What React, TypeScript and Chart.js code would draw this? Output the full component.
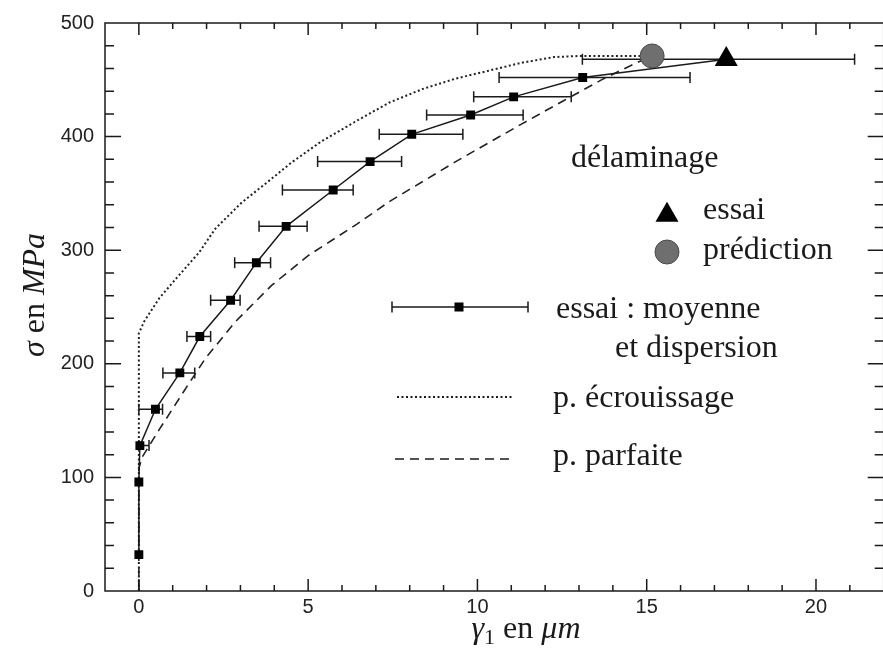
import React, { useEffect, useRef } from "react";
import { Chart, registerables } from "chart.js";

Chart.register(...registerables);

// ---- data: test means with horizontal dispersion ----
const meanX = [0, 0, 0.03, 0.49, 1.21, 1.8, 2.71, 3.47, 4.35, 5.74, 6.83, 8.06, 9.8, 11.07, 13.11];
const meanY = [32, 96, 128, 160, 192, 224, 256, 289, 321, 353, 378, 402, 419, 435, 452];
const errLow = [0, 0, 0, 0, 0.71, 1.42, 2.12, 2.83, 3.55, 4.24, 5.28, 7.1, 8.5, 9.89, 10.64];
const errHigh = [0, 0, 0.3, 0.7, 1.65, 2.12, 2.99, 3.89, 4.97, 6.33, 7.76, 9.57, 11.35, 12.77, 16.28];

// délaminage: essai (triangle) and prédiction (circle)
const essaiX = [17.35];
const essaiY = [468];
const essaiErrLow = [13.1];
const essaiErrHigh = [21.14];
const predX = [15.16];
const predY = [471];

// p. écrouissage (dotted)
const ecrouX = [0, 0, 0.17, 0.61, 1.1, 1.78, 2.26, 3.04, 3.8, 4.5, 5.4, 6.44, 7.4, 8.39, 9.35, 10.33, 11.3, 12.27, 13.05, 15.16];
const ecrouY = [0, 227, 238, 258, 275, 298, 319, 342, 360, 377, 396, 414, 430, 442, 451, 458, 465, 470, 471, 471];

// p. parfaite (dashed)
const parfX = [0, 0, 0.1, 0.6, 1.29, 1.97, 2.85, 3.92, 4.99, 6.44, 7.41, 9.36, 11.3, 12.57, 13.73, 14.7, 15.16];
const parfY = [0, 108, 118, 142, 174, 205, 237, 269, 295, 323, 343, 378, 411, 432, 451, 465, 471];

// ticks
const xTicks = [0, 5, 10, 15, 20];
const yTicks = [0, 100, 200, 300, 400, 500];
const xRange = [-1, 22];
const yRange = [0, 500];

// texts
const legendTitle = "délaminage";
const labelEssai = "essai";
const labelPred = "prédiction";
const labelMean1 = "essai : moyenne";
const labelMean2 = "et dispersion";
const labelEcrou = "p. écrouissage";
const labelParf = "p. parfaite";

const INK = "#1a1a1a";
const SERIF = '"Liberation Serif", "DejaVu Serif", serif';
const SANS = '"Liberation Sans", Arial, sans-serif';

const pts = (xs: number[], ys: number[]) => xs.map((x, i) => ({ x, y: ys[i] }));

const errorBarPlugin = {
  id: "errorBars",
  beforeDatasetsDraw(chart: any) {
    const { ctx, scales } = chart;
    const xs = scales.x;
    const ys = scales.y;
    const bars: [number, number, number][] = [];
    meanY.forEach((y, i) => {
      if (errHigh[i] - errLow[i] > 0) bars.push([errLow[i], errHigh[i], y]);
    });
    essaiY.forEach((y, i) => bars.push([essaiErrLow[i], essaiErrHigh[i], y]));
    ctx.save();
    ctx.strokeStyle = INK;
    ctx.lineWidth = 1.5;
    bars.forEach(([lo, hi, y]) => {
      const x1 = xs.getPixelForValue(lo);
      const x2 = xs.getPixelForValue(hi);
      const py = ys.getPixelForValue(y);
      ctx.beginPath();
      ctx.moveTo(x1, py);
      ctx.lineTo(x2, py);
      ctx.moveTo(x1, py - 5.5);
      ctx.lineTo(x1, py + 5.5);
      ctx.moveTo(x2, py - 5.5);
      ctx.lineTo(x2, py + 5.5);
      ctx.stroke();
    });
    ctx.restore();
  },
};

const framePlugin = {
  id: "frame",
  afterDatasetsDraw(chart: any) {
    const { ctx, chartArea, scales } = chart;
    const { left, right, top, bottom } = chartArea;
    ctx.save();
    ctx.strokeStyle = INK;
    ctx.lineWidth = 1.5;
    ctx.strokeRect(left, top, right - left, bottom - top);
    ctx.beginPath();
    for (let v = Math.ceil(xRange[0]) + 1; v < xRange[1]; v++) {
      const px = scales.x.getPixelForValue(v);
      const len = v % 5 === 0 ? 12 : 6;
      ctx.moveTo(px, bottom);
      ctx.lineTo(px, bottom - len);
      ctx.moveTo(px, top);
      ctx.lineTo(px, top + len);
    }
    for (let v = yRange[0] + 20; v < yRange[1]; v += 20) {
      const py = scales.y.getPixelForValue(v);
      const len = v % 100 === 0 ? 16 : 9;
      ctx.moveTo(left, py);
      ctx.lineTo(left + len, py);
      ctx.moveTo(right, py);
      ctx.lineTo(right - len, py);
    }
    ctx.stroke();
    ctx.restore();
  },
};

const textPlugin = {
  id: "texts",
  afterDraw(chart: any) {
    const { ctx } = chart;
    ctx.save();
    ctx.fillStyle = INK;
    ctx.strokeStyle = INK;
    ctx.textBaseline = "alphabetic";
    ctx.textAlign = "left";
    const reg = `32px ${SERIF}`;
    const ital = `italic 32px ${SERIF}`;
    ctx.font = reg;
    ctx.fillText(legendTitle, 571, 167);

    // triangle marker
    const tx = 667, ty = 215, r = 13.3;
    ctx.beginPath();
    ctx.moveTo(tx, ty - r);
    ctx.lineTo(tx + r * Math.sin((2 * Math.PI) / 3), ty + r / 2);
    ctx.lineTo(tx - r * Math.sin((2 * Math.PI) / 3), ty + r / 2);
    ctx.closePath();
    ctx.fillStyle = "#000";
    ctx.fill();
    ctx.fillStyle = INK;
    ctx.fillText(labelEssai, 703, 219);

    // circle marker
    ctx.beginPath();
    ctx.arc(667, 252, 12, 0, Math.PI * 2);
    ctx.fillStyle = "#6f6f6f";
    ctx.fill();
    ctx.strokeStyle = "#4a4a4a";
    ctx.lineWidth = 1;
    ctx.stroke();
    ctx.fillStyle = INK;
    ctx.strokeStyle = INK;
    ctx.fillText(labelPred, 703, 259);

    // error bar sample
    ctx.lineWidth = 1.5;
    ctx.beginPath();
    ctx.moveTo(392, 307);
    ctx.lineTo(528, 307);
    ctx.moveTo(392, 301.5);
    ctx.lineTo(392, 312.5);
    ctx.moveTo(528, 301.5);
    ctx.lineTo(528, 312.5);
    ctx.stroke();
    ctx.fillStyle = "#000";
    ctx.fillRect(459 - 4.5, 307 - 4.5, 9, 9);
    ctx.fillStyle = INK;
    ctx.fillText(labelMean1, 556, 318);
    ctx.fillText(labelMean2, 615, 357);

    // dotted sample
    ctx.setLineDash([2, 2.5]);
    ctx.lineWidth = 2;
    ctx.beginPath();
    ctx.moveTo(397, 397);
    ctx.lineTo(513, 397);
    ctx.stroke();
    ctx.fillText(labelEcrou, 553, 407);

    // dashed sample
    ctx.setLineDash([9, 6]);
    ctx.lineWidth = 1.6;
    ctx.beginPath();
    ctx.moveTo(395, 459);
    ctx.lineTo(515, 459);
    ctx.stroke();
    ctx.setLineDash([]);
    ctx.fillText(labelParf, 553, 465);

    // x axis title: γ1 en μm
    const parts = (
      segs: { t: string; f: string; dy?: number }[],
    ) => segs.map((s) => {
      ctx.font = s.f;
      return ctx.measureText(s.t).width;
    });
    const xSegs = [
      { t: "γ", f: ital },
      { t: "1", f: `22px ${SERIF}`, dy: 6 },
      { t: " en ", f: reg },
      { t: "μm", f: ital },
    ];
    const xw = parts(xSegs);
    const xTotal = xw.reduce((a, b) => a + b, 0);
    let cx = 526 - xTotal / 2;
    xSegs.forEach((s, i) => {
      ctx.font = s.f;
      ctx.fillText(s.t, cx, 638 + (s.dy || 0));
      cx += xw[i];
    });

    // y axis title: σ en MPa
    const ySegs = [
      { t: "σ", f: ital },
      { t: " en ", f: reg },
      { t: "MPa", f: ital },
    ];
    const yw = parts(ySegs);
    const yTotal = yw.reduce((a, b) => a + b, 0);
    ctx.translate(44, 295);
    ctx.rotate(-Math.PI / 2);
    let cy = -yTotal / 2;
    ySegs.forEach((s, i) => {
      ctx.font = s.f;
      ctx.fillText(s.t, cy, 0);
      cy += yw[i];
    });
    ctx.restore();
  },
};

export default function App() {
  const ref = useRef<HTMLCanvasElement>(null);
  useEffect(() => {
    if (!ref.current) return;
    const lineData = [...pts(meanX, meanY), ...pts(essaiX, essaiY)];
    const radii = lineData.map((_, i) => (i < meanX.length ? 6.3 : 0));
    const chart = new Chart(ref.current, {
      type: "scatter",
      data: {
        datasets: [
          {
            label: labelEcrou,
            data: pts(ecrouX, ecrouY),
            showLine: true,
            borderColor: "#222",
            borderWidth: 2,
            borderDash: [2, 2.5],
            pointRadius: 0,
            tension: 0,
            order: 5,
          } as any,
          {
            label: labelParf,
            data: pts(parfX, parfY),
            showLine: true,
            borderColor: "#222",
            borderWidth: 1.6,
            borderDash: [9, 6],
            pointRadius: 0,
            tension: 0,
            order: 4,
          },
          {
            label: labelMean1,
            data: lineData,
            showLine: true,
            borderColor: INK,
            borderWidth: 1.5,
            pointStyle: "rect",
            pointRadius: radii,
            pointBackgroundColor: "#000",
            pointBorderColor: "#000",
            pointBorderWidth: 0,
            order: 3,
          },
          {
            label: labelPred,
            data: pts(predX, predY),
            pointStyle: "circle",
            pointRadius: 12,
            pointBackgroundColor: "#6f6f6f",
            pointBorderColor: "#4a4a4a",
            pointBorderWidth: 1,
            order: 2,
          },
          {
            label: labelEssai,
            data: pts(essaiX, essaiY),
            pointStyle: "triangle",
            pointRadius: 13.3,
            pointBackgroundColor: "#000",
            pointBorderColor: "#000",
            pointBorderWidth: 0,
            order: 1,
          },
        ],
      },
      options: {
        responsive: false,
        animation: false,
        devicePixelRatio: 1,
        layout: { padding: { top: 18, right: 7, left: 0, bottom: 0 } },
        plugins: { legend: { display: false }, tooltip: { enabled: false } },
        scales: {
          x: {
            type: "linear",
            min: xRange[0],
            max: xRange[1],
            grid: { display: false, drawTicks: false },
            border: { display: false },
            ticks: { font: { family: SANS, size: 20 }, color: "#222", padding: 4, maxRotation: 0 },
            afterBuildTicks: (s: any) => {
              s.ticks = xTicks.map((v) => ({ value: v }));
            },
            afterFit: (s: any) => {
              s.height = 57;
            },
          },
          y: {
            type: "linear",
            min: yRange[0],
            max: yRange[1],
            grid: { display: false, drawTicks: false },
            border: { display: false },
            ticks: { font: { family: SANS, size: 20 }, color: "#222", padding: 11 },
            afterBuildTicks: (s: any) => {
              s.ticks = yTicks.map((v) => ({ value: v }));
            },
            afterFit: (s: any) => {
              s.width = 105;
            },
          },
        },
      },
      plugins: [errorBarPlugin, framePlugin, textPlugin],
    } as any);
    return () => chart.destroy();
  }, []);
  return (
    <div
      style={{
        position: "fixed",
        left: 0,
        top: 0,
        width: 883,
        height: 648,
        overflow: "hidden",
        background: "#fff",
      }}
    >
      <canvas ref={ref} width={897} height={648} style={{ display: "block", width: 897, height: 648 }} />
    </div>
  );
}
